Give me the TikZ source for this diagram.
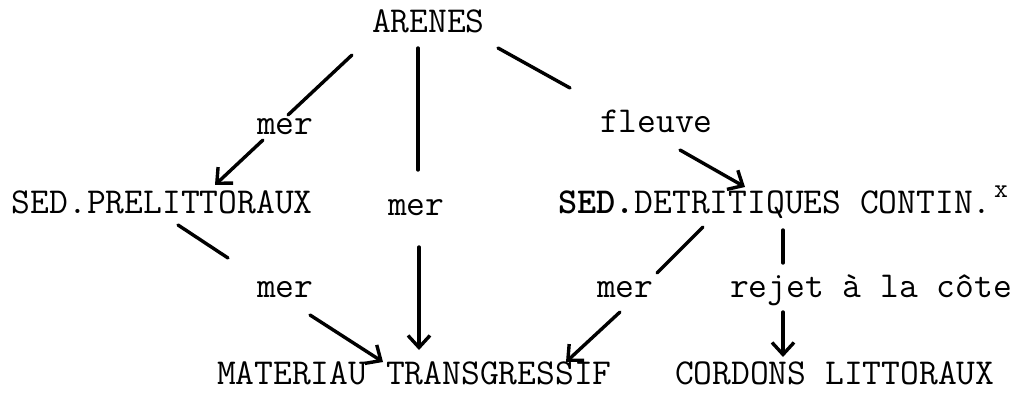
\documentclass[tikz,border=0pt]{standalone}
\usepackage{fontspec}
\usetikzlibrary{arrows.meta}

\begin{document}
\begin{tikzpicture}[x=1pt,y=-1pt,
  lbl/.style={anchor=base west,inner sep=0pt,outer sep=0pt,
    font=\ttfamily\fontsize{36.5}{40}\selectfont},
  link/.style={line width=3.4pt,line cap=round,black},
  flow/.style={link,-{Straight Barb[length=12pt,width=22pt]}}]
\useasboundingbox (0,0) rectangle (1018,393);

% terms
\node[lbl] (arenes) at (372,33) {ARENES};
\node[lbl] (prelit) at (12,214) {SED.PRELITTORAUX};
\node[lbl] (detrit) at (558,214) {\textbf{SED.}DETRITIQUES CONTIN.};
\node[anchor=base west,inner sep=0pt,font=\ttfamily\fontsize{27}{30}\selectfont]
  (star) at (994,197) {x};
\node[lbl] (transg) at (217,384) {MATERIAU TRANSGRESSIF};
\node[lbl] (cordons) at (675,384) {CORDONS LITTORAUX};

% process labels
\node[lbl] (merA) at (257,135) {mer};
\node[lbl] (merB) at (388,215) {mer};
\node[lbl] (fleuve) at (600,133) {fleuve};
\node[lbl] (merC) at (257,297) {mer};
\node[lbl] (merD) at (597,297) {mer};
\node[lbl] (rejet) at (730,297) {rejet à la côte};

% stroke ends
\coordinate (a1) at (352,55);  \coordinate (a2) at (288,115);
\coordinate (a3) at (263,140); \coordinate (a4) at (215,185);
\coordinate (b1) at (418,48);  \coordinate (b2) at (418,170);
\coordinate (b3) at (419,247); \coordinate (b4) at (419,350);
\coordinate (c1) at (498,48);  \coordinate (c2) at (570,88);
\coordinate (c3) at (680,150); \coordinate (c4) at (745,187);
\coordinate (d1) at (178,225); \coordinate (d2) at (228,258);
\coordinate (d3) at (310,315); \coordinate (d4) at (383,362);
\coordinate (e1) at (703,227); \coordinate (e2) at (657,273);
\coordinate (e3) at (620,312); \coordinate (e4) at (566,362);
\coordinate (f1) at (783,230); \coordinate (f2) at (783,263);
\coordinate (f3) at (783,312); \coordinate (f4) at (783,357);

% connectors
\draw[link] (a1) -- (a2);  \draw[flow] (a3) -- (a4);
\draw[link] (b1) -- (b2);  \draw[flow] (b3) -- (b4);
\draw[link] (c1) -- (c2);  \draw[flow] (c3) -- (c4);
\draw[link] (d1) -- (d2);  \draw[flow] (d3) -- (d4);
\draw[link] (e1) -- (e2);  \draw[flow] (e3) -- (e4);
\draw[link] (f1) -- (f2);  \draw[flow] (f3) -- (f4);
\end{tikzpicture}
\end{document}
